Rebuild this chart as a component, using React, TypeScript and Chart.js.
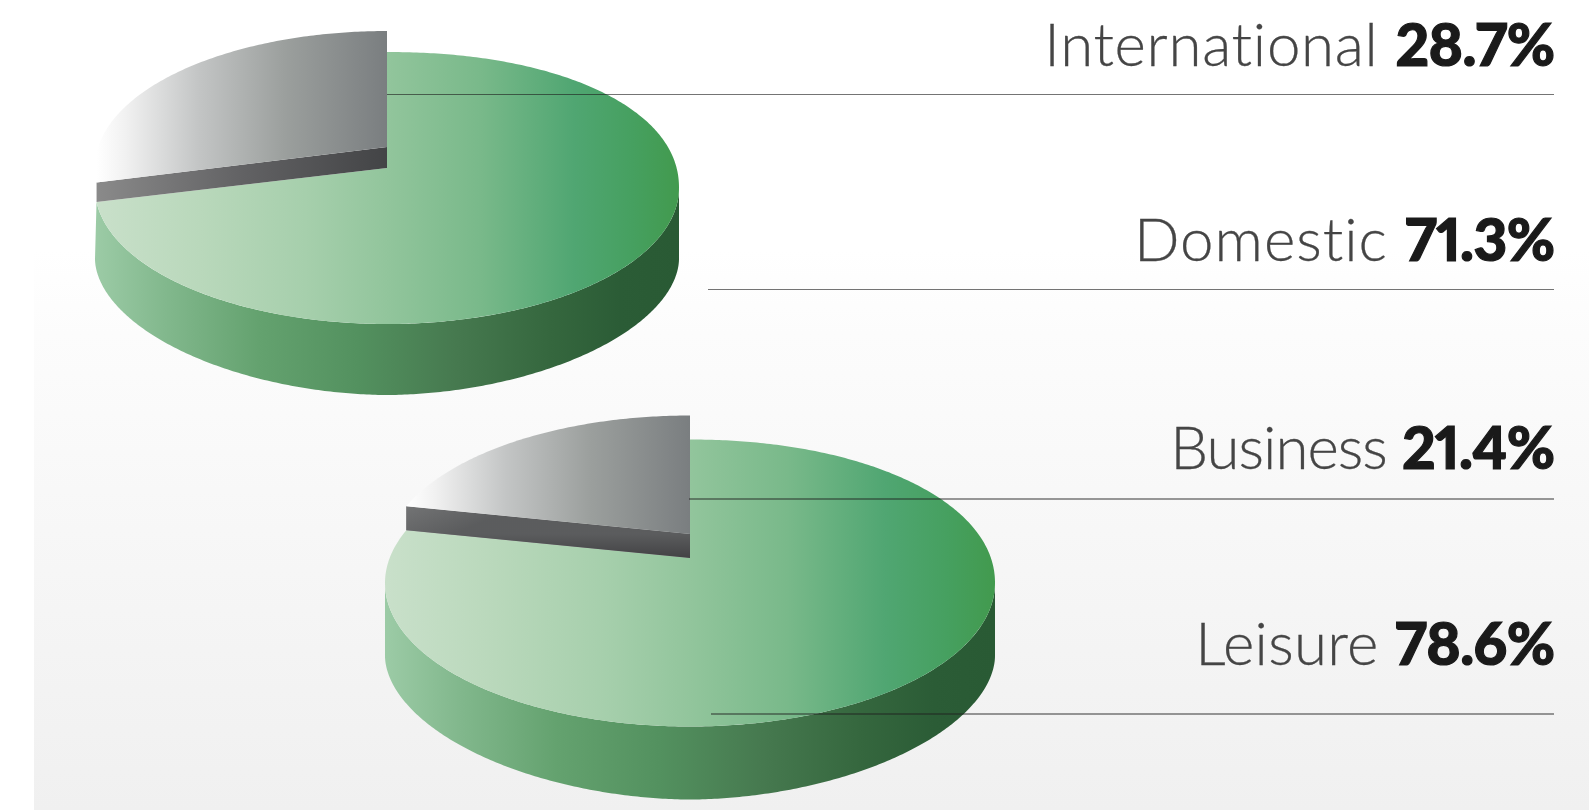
import React, { useEffect, useRef } from "react";
import { Chart, registerables } from "chart.js";

Chart.register(...registerables);

const tripLabels = ["Domestic", "International"];
const tripValues = [71.3, 28.7];
const purposeLabels = ["Leisure", "Business"];
const purposeValues = [78.6, 21.4];

const rowLabels = ["International", "Domestic", "Business", "Leisure"];
const rowValues = ["28.7%", "71.3%", "21.4%", "78.6%"];

const rowLayout = [
  { baseline: 66, lineY: 94, lineX: 387, lineH: 1.5, lineA: 0.62, labelGap: 0.7 },
  { baseline: 261, lineY: 289, lineX: 708, lineH: 1.5, lineA: 0.62, labelGap: 1.0 },
  { baseline: 469, lineY: 498, lineX: 689, lineH: 2, lineA: 0.45, labelGap: -1.0 },
  { baseline: 665, lineY: 713, lineX: 711, lineH: 2, lineA: 0.45, labelGap: 0.3 },
];

type PieStyle = {
  cx: number; cy: number; rx: number; ry: number; n: number; dirY: number;
  apexUp: number; lift: number; liftRim: number; depth: number; wallVertical: boolean;
};

const BOTTOM_N = 1.87;
const tripStyle: PieStyle = { cx: 387, cy: 188, rx: 292, ry: 136, n: 2.12, dirY: 1.06, apexUp: 20, lift: 21, liftRim: 19.5, depth: 71, wallVertical: false };
const purposeStyle: PieStyle = { cx: 690, cy: 583, rx: 305, ry: 143.5, n: 2.06, dirY: 0.9, apexUp: 25, lift: 24, liftRim: 24, depth: 73, wallVertical: true };

function spow(v: number, e: number) {
  return Math.sign(v) * Math.pow(Math.abs(v), e);
}

function rimPoint(angle: number, rx: number, ry: number, apexUp: number, n: number, dirY: number) {
  const dx = rx * Math.cos(angle);
  const dy = ry * Math.sin(angle) * dirY;
  let lo = 0;
  let hi = 2;
  for (let i = 0; i < 40; i++) {
    const t = (lo + hi) / 2;
    const px = t * dx;
    const py = -apexUp + t * dy;
    const e = px > 0 && py < 0 ? n : 2;
    const f = Math.pow(Math.abs(px / rx), e) + Math.pow(Math.abs(py / ry), e);
    if (f < 1) lo = t;
    else hi = t;
  }
  const x = lo * dx;
  const y = -apexUp + lo * dy;
  const e = x > 0 && y < 0 ? n : 2;
  return { x, y, phi: Math.atan2(spow(y / ry, e / 2), spow(x / rx, e / 2)) };
}

// Walks the rim of the disc; the upper right quadrant is slightly squared off in the reference.
function rimTo(ctx: CanvasRenderingContext2D, oy: number, rx: number, ry: number, n: number, from: number, to: number, fixedN?: number) {
  const steps = Math.max(8, Math.ceil(Math.abs(to - from) * 90));
  for (let i = 0; i <= steps; i++) {
    const a = from + ((to - from) * i) / steps;
    const c = Math.cos(a);
    const s = Math.sin(a);
    const e = fixedN ?? (c > 0 && s < 0 ? n : 2);
    ctx.lineTo(rx * spow(c, 2 / e), oy + ry * spow(s, 2 / e));
  }
}

function stops(g: CanvasGradient, list: [number, string][]) {
  list.forEach(([o, c]) => g.addColorStop(o, c));
  return g;
}

function pie3d(s: PieStyle) {
  return {
    id: "pie3d",
    beforeDatasetDraw(chart: any) {
      const ctx: CanvasRenderingContext2D = chart.ctx;
      const [main, slice] = chart.getDatasetMeta(0).data;
      const p = main.getProps(["x", "y", "startAngle", "endAngle", "outerRadius"], true);
      const rx = p.outerRadius;
      const ry = s.ry;
      const cut = rimPoint(p.endAngle, rx, ry, s.apexUp, s.n, s.dirY);
      const topPhi = -Math.PI / 2;
      const cutPhi = cut.phi > topPhi ? cut.phi : cut.phi + 2 * Math.PI;
      ctx.save();
      ctx.translate(p.x, p.y);

      // side wall of the main slice
      const endPhi = Math.min(cutPhi, Math.PI);
      const wallGrad = stops(ctx.createLinearGradient(-rx, 0, rx, 0), [
        [0, "#9ccba6"], [0.12, "#82b88d"], [0.28, "#64a26f"], [0.45, "#53915f"],
        [0.62, "#46794f"], [0.78, "#35673e"], [0.9, "#2b5c36"], [1, "#295a34"],
      ]);
      ctx.beginPath();
      ctx.moveTo(rx, 0);
      rimTo(ctx, s.depth, rx, ry, s.n, 0, Math.PI, BOTTOM_N);
      ctx.lineTo(rx * Math.cos(endPhi), ry * Math.sin(endPhi));
      rimTo(ctx, 0, rx, ry, s.n, endPhi, 0);
      ctx.closePath();
      ctx.fillStyle = wallGrad;
      ctx.fill();

      // top face of the main slice
      const topGrad = stops(ctx.createLinearGradient(-rx, 0, rx, 0), [
        [0, "#c9e0ca"], [0.18, "#b9d8bb"], [0.36, "#a6cfac"], [0.5, "#92c59c"],
        [0.66, "#79b98a"], [0.82, "#50a672"], [0.92, "#46a060"], [1, "#429a4e"],
      ]);
      ctx.beginPath();
      ctx.moveTo(0, -s.apexUp);
      rimTo(ctx, 0, rx, ry, s.n, topPhi, cutPhi);
      ctx.closePath();
      ctx.fillStyle = topGrad;
      ctx.fill();

      // cut wall of the lifted slice
      ctx.beginPath();
      ctx.moveTo(0, -s.apexUp);
      ctx.lineTo(cut.x, cut.y);
      ctx.lineTo(cut.x, cut.y - s.liftRim);
      ctx.lineTo(0, -s.apexUp - s.lift);
      ctx.closePath();
      if (s.wallVertical) {
        ctx.fillStyle = stops(ctx.createLinearGradient(cut.x, cut.y - s.lift, cut.x + 16, cut.y + 16), [
          [0, "#7d7d7e"], [1, "#49494b"],
        ]);
        ctx.fill();
        ctx.save();
        ctx.globalAlpha = 0.55;
        ctx.fillStyle = stops(ctx.createLinearGradient(0, -s.apexUp - s.lift, 0, -s.apexUp), [
          [0, "#6a6c6d"], [1, "#3d3d3f"],
        ]);
        ctx.fill();
        ctx.restore();
      } else {
        ctx.fillStyle = stops(ctx.createLinearGradient(cut.x, 0, 0, 0), [
          [0, "#8a8a8a"], [0.5, "#626264"], [1, "#434446"],
        ]);
        ctx.fill();
      }

      // top face of the lifted slice
      const sp = slice.getProps(["startAngle", "endAngle"], true);
      const a = rimPoint(sp.startAngle, rx, ry, s.apexUp, s.n, s.dirY);
      const aPhi = a.phi > 0 ? a.phi - 2 * Math.PI : a.phi;
      const greyLeft = Math.min(a.x, -rx * 0.92);
      const greyGrad = stops(ctx.createLinearGradient(greyLeft, 0, 0, 0), [
        [0, "#ffffff"], [0.1, "#f1f1f1"], [0.35, "#c3c5c5"], [0.65, "#9b9f9d"], [1, "#7a7e80"],
      ]);
      ctx.beginPath();
      ctx.moveTo(0, -s.apexUp - s.lift);
      ctx.lineTo(a.x, a.y - s.liftRim);
      rimTo(ctx, -s.lift, rx, ry, s.n, aPhi, topPhi);
      ctx.closePath();
      ctx.fillStyle = greyGrad;
      ctx.fill();

      ctx.restore();
      return false;
    },
  };
}

function Pie({ labels, values, style }: { labels: string[]; values: number[]; style: PieStyle }) {
  const ref = useRef<HTMLCanvasElement>(null);
  useEffect(() => {
    const chart = new Chart(ref.current!, {
      type: "pie",
      data: {
        labels,
        datasets: [{ data: values, backgroundColor: ["#7dbb8a", "#a0a3a3"], borderWidth: 0 }],
      },
      options: {
        responsive: false,
        animation: false,
        events: [],
        layout: { padding: 0 },
        plugins: { legend: { display: false }, tooltip: { enabled: false } },
      },
      plugins: [pie3d(style)],
    } as any);
    return () => chart.destroy();
  }, []);
  const size = style.rx * 2;
  return (
    <canvas
      ref={ref}
      width={size}
      height={size}
      style={{ position: "absolute", left: style.cx - style.rx, top: style.cy - style.rx, width: size, height: size }}
    />
  );
}

export default function App() {
  return (
    <div style={{ position: "absolute", left: 0, top: 0, width: 1589, height: 810, overflow: "hidden", background: "#fff" }}>
      <div
        style={{
          position: "absolute", left: 34, top: 250, width: 1555, height: 560,
          background: "linear-gradient(to bottom, #ffffff 0%, #fcfcfc 15%, #f7f7f7 50%, #f0f0f0 100%)",
        }}
      />
      <Pie labels={tripLabels} values={tripValues} style={tripStyle} />
      <Pie labels={purposeLabels} values={purposeValues} style={purposeStyle} />
      {rowLabels.map((label, i) => {
        const r = rowLayout[i];
        return (
          <React.Fragment key={label}>
            <div
              style={{
                position: "absolute", left: r.lineX, top: r.lineY - 0.5, width: 1554 - r.lineX, height: r.lineH,
                background: `rgba(30,30,30,${r.lineA})`,
              }}
            />
            <div
              style={{
                position: "absolute", right: 1589 - 1554.5, top: r.baseline - 60, height: 74, lineHeight: "74px",
                whiteSpace: "pre", fontFamily: "Lato, sans-serif", textAlign: "right", fontVariantLigatures: "none",
                fontVariantNumeric: "proportional-nums",
              }}
            >
              <span style={{ fontWeight: 300, color: "#454545", fontSize: 60, letterSpacing: r.labelGap, WebkitTextStroke: "0.3px #454545" }}>
                {label}{" "}
              </span>
              <span style={{ fontWeight: 900, color: "#1a1a1a", fontSize: 58.5, letterSpacing: -0.6, WebkitTextStroke: "1.2px #1a1a1a" }}>
                {rowValues[i]}
              </span>
            </div>
          </React.Fragment>
        );
      })}
    </div>
  );
}
